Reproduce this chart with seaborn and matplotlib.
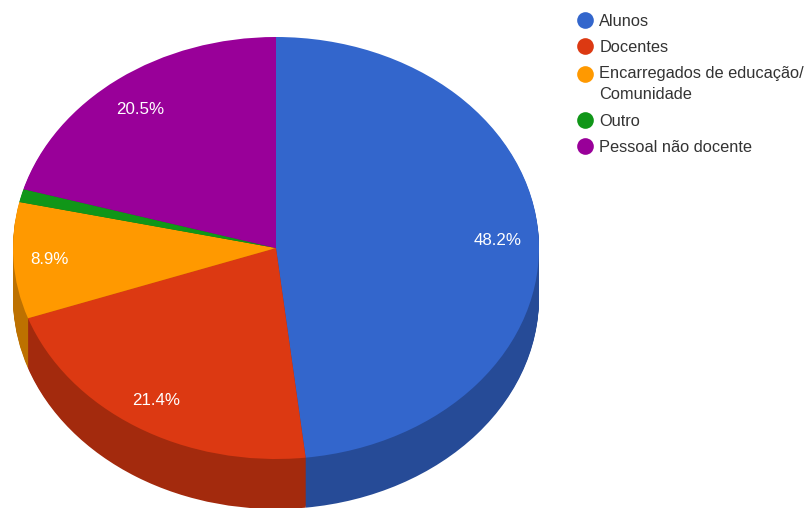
import matplotlib
matplotlib.use("Agg")
import matplotlib.pyplot as plt
from matplotlib.colors import to_rgb
from matplotlib.lines import Line2D
import seaborn as sns

categories = ["Alunos", "Docentes", "Encarregados de educação/\nComunidade", "Outro", "Pessoal não docente"]
shares = [48.2, 21.4, 8.9, 1.0, 20.5]
colors = ["#3366CC", "#DC3912", "#FF9900", "#109618", "#990099"]

sns.set_theme(style="white")
plt.rcParams["font.family"] = ["Liberation Sans", "DejaVu Sans"]

W, H = 806, 508
fig = plt.figure(figsize=(W / 100, H / 100), dpi=100, facecolor="white")
ax = fig.add_axes([0, 0, 1, 1])

# Ellipse geometry of the tilted disc, in pixels
cx, cy, rx, ry, depth = 276, 248, 263, 211, 50
palette = sns.color_palette(colors)
dark = [tuple(c * 0.74 for c in to_rgb(col)) for col in palette]

# Side wall: stacked darker discs, lowest first
steps = 50
for i in range(steps, 0, -1):
    ax.pie(shares, colors=dark, startangle=90, counterclock=False, radius=1,
           center=(0, -depth / ry * i / steps), wedgeprops={"linewidth": 0})

# Top face with percentage labels
_, _, pct = ax.pie(shares, colors=palette, startangle=90, counterclock=False, radius=1,
                   center=(0, 0), wedgeprops={"linewidth": 0},
                   autopct=lambda p: f"{p:.1f}%" if p >= 2 else "", pctdistance=0.84,
                   textprops={"color": "white", "fontsize": 12.2})

# Small label nudges, in pixels, so each text sits clear of the slice edges
nudges = [(1, -3), (-3, -2), (-6.5, -1), (0, 0), (-3, -3)]
for label, (dx, dy) in zip(pct, nudges):
    x, y = label.get_position()
    label.set_position((x + dx / rx, y + dy / ry))

ax.set_aspect("auto")
ax.set_xlim(-cx / rx, (W - cx) / rx)
ax.set_ylim((cy - H) / ry, cy / ry)

handles = [Line2D([], [], linestyle="none", marker="o", markersize=12,
                  markerfacecolor=c, markeredgewidth=0) for c in palette]
leg = ax.legend(handles, categories, loc="upper left", bbox_to_anchor=(575 / W, 1 - 14 / H),
                bbox_transform=fig.transFigure, frameon=False, fontsize=11.75,
                labelcolor="#333333", handletextpad=0.28, labelspacing=0.68,
                borderpad=0, borderaxespad=0, handlelength=1.2)

# Wrapped entry: wider line gap, marker level with its first line
for text in leg.get_texts():
    text.set_linespacing(1.52)
wrapped = leg.legend_handles[2]
wrapped.set_ydata(wrapped.get_ydata() + 11 * 0.72)

fig.savefig("out.png", dpi=100, facecolor="white")
